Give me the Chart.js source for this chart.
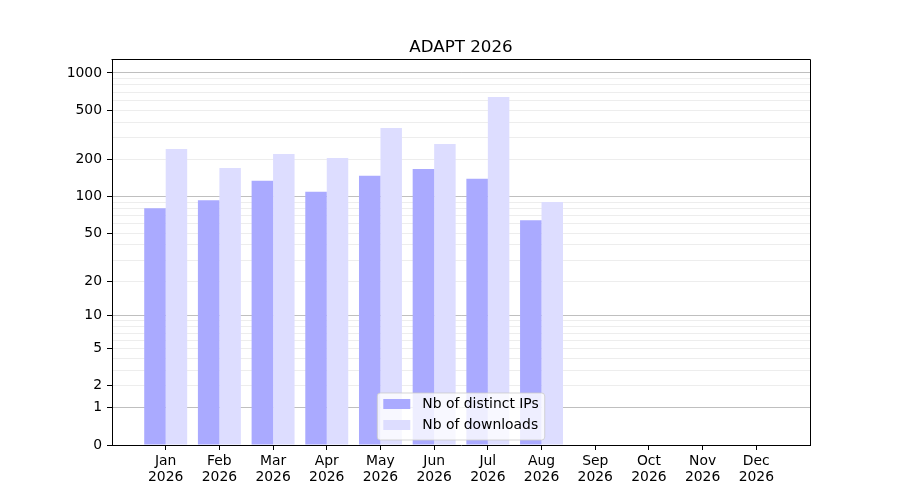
<!DOCTYPE html>
<html>
<head>
<meta charset="utf-8">
<script src="https://cdn.jsdelivr.net/npm/chart.js@4.4.0/dist/chart.umd.min.js"></script>
<style>
html, body { margin: 0; padding: 0; background: #fff; }
#wrap { width: 900px; height: 500px; }
</style>
</head>
<body>
<div id="wrap"><canvas id="adaptChart"></canvas></div>
<script>
const chartTitle = "ADAPT 2026"
const months = ["Jan", "Feb", "Mar", "Apr", "May", "Jun", "Jul", "Aug", "Sep", "Oct", "Nov", "Dec"]
const year = "2026"
const distinctIPs = [80, 93, 134, 109, 147, 167, 139, 64]
const downloads = [243, 170, 221, 205, 359, 266, 639, 90]

const yTicks = [0, 1, 2, 3, 4, 5, 6, 7, 8, 9, 10, 20, 30, 40, 50, 60, 70, 80, 90,
    100, 200, 300, 400, 500, 600, 700, 800, 900, 1000]
const yLabelled = [0, 1, 2, 5, 10, 20, 50, 100, 200, 500, 1000]
const yMajor = [1, 10, 100, 1000]
const yMax = 1270

const font = "'DejaVu Sans', sans-serif"

// y axis drawn as log10(1 + v), so 0 sits at the bottom
class Log1pScale extends Chart.LinearScale {
    configure() {
        super.configure()
        this._lo = Math.log10(1 + this.min)
        this._hi = Math.log10(1 + this.max)
    }
    buildTicks() {
        return yTicks.filter(v => v >= this.min && v <= this.max).map(v => ({ value: v }))
    }
    getPixelForValue(value) {
        if (value === null || value === undefined || isNaN(value)) return NaN
        return this.getPixelForDecimal((Math.log10(1 + value) - this._lo) / (this._hi - this._lo))
    }
    getValueForPixel(pixel) {
        const d = this.getDecimalForPixel(pixel)
        return Math.pow(10, this._lo + d * (this._hi - this._lo)) - 1
    }
}
Log1pScale.id = "log1p"
Log1pScale.defaults = Chart.LinearScale.defaults
Chart.register(Log1pScale)

const boxLegend = {
    id: "boxLegend",
    afterDraw(chart) {
        const ctx = chart.ctx
        const area = chart.chartArea
        ctx.save()

        // top and right spines
        ctx.strokeStyle = "#000"
        ctx.lineWidth = 1
        ctx.beginPath()
        ctx.moveTo(Math.round(area.left) - 0.5, Math.round(area.top) - 0.5)
        ctx.lineTo(Math.round(area.right) + 0.5, Math.round(area.top) - 0.5)
        ctx.lineTo(Math.round(area.right) + 0.5, Math.round(area.bottom))
        ctx.stroke()

        // legend box, lower centre
        ctx.font = "13.9px " + font
        const items = chart.data.datasets
        const textW = Math.max(...items.map(d => ctx.measureText(d.label).width))
        const pad = 6, handle = 27, gap = 12, rowH = 21
        const w = pad + handle + gap + textW + pad
        const h = 47
        const x = (area.left + area.right) / 2 - w / 2
        const y = area.bottom - 5 - h
        ctx.beginPath()
        ctx.roundRect(x, y, w, h, 3)
        ctx.fillStyle = "rgba(255,255,255,0.8)"
        ctx.fill()
        ctx.strokeStyle = "rgba(204,204,204,0.8)"
        ctx.stroke()

        items.forEach((d, i) => {
            const cy = y + 11 + i * rowH
            ctx.fillStyle = d.backgroundColor
            ctx.fillRect(x + pad, cy - 5, handle, 10)
            ctx.fillStyle = "#000"
            ctx.textBaseline = "middle"
            ctx.textAlign = "left"
            ctx.fillText(d.label, x + pad + handle + gap, cy)
        })
        ctx.restore()
    }
}

new Chart(
    document.getElementById("adaptChart"),
    {
        type: "bar",
        data: {
            datasets: [{
                label: "Nb of distinct IPs",
                data: distinctIPs.map((v, i) => ({ x: i, y: v })),
                backgroundColor: "rgb(170,170,255)",
                borderWidth: 0
            }, {
                label: "Nb of downloads",
                data: downloads.map((v, i) => ({ x: i, y: v })),
                backgroundColor: "rgb(221,221,255)",
                borderWidth: 0
            }]
        },
        options: {
            responsive: true,
            maintainAspectRatio: false,
            animation: false,
            categoryPercentage: 0.8,
            barPercentage: 1.0,
            layout: { padding: { left: 0, right: 90, top: 0, bottom: 0 } },
            plugins: {
                legend: { display: false },
                tooltip: { enabled: false },
                title: {
                    display: true,
                    fullSize: false,
                    text: chartTitle,
                    color: "#000",
                    font: { family: font, size: 16.7, weight: "normal" },
                    padding: { top: 38, bottom: 2 }
                }
            },
            scales: {
                x: {
                    type: "linear",
                    min: -1,
                    max: months.length,
                    offset: false,
                    ticks: {
                        stepSize: 1,
                        autoSkip: false,
                        maxRotation: 0,
                        padding: 3,
                        color: "#000",
                        font: { family: font, size: 13.9, lineHeight: 1.15 },
                        callback: v => (v >= 0 && v < months.length) ? [months[v], year] : ""
                    },
                    grid: {
                        offset: false,
                        drawOnChartArea: false,
                        tickLength: 5,
                        tickColor: c => (c.tick && c.tick.value >= 0 && c.tick.value < months.length) ? "#000" : "rgba(0,0,0,0)"
                    },
                    border: { color: "#000", width: 1 },
                    afterFit: s => { s.height = 55 }
                },
                y: {
                    type: "log1p",
                    min: 0,
                    max: yMax,
                    z: 1,
                    ticks: {
                        autoSkip: false,
                        padding: 5,
                        color: "#000",
                        font: { family: font, size: 13.9 },
                        callback: v => yLabelled.includes(v) ? String(v) : ""
                    },
                    grid: {
                        color: c => {
                            if (!c.tick || c.tick.value === 0) return "rgba(0,0,0,0)"
                            return yMajor.includes(c.tick.value) ? "rgba(0,0,0,0.25)" : "rgba(0,0,0,0.07)"
                        },
                        tickColor: c => (c.tick && yLabelled.includes(c.tick.value)) ? "#000" : "rgba(0,0,0,0)",
                        tickLength: 5,
                        lineWidth: 1
                    },
                    border: { color: "#000", width: 1 },
                    afterFit: s => { s.width = 112 }
                }
            }
        },
        plugins: [boxLegend]
    }
)
</script>
</body>
</html>
